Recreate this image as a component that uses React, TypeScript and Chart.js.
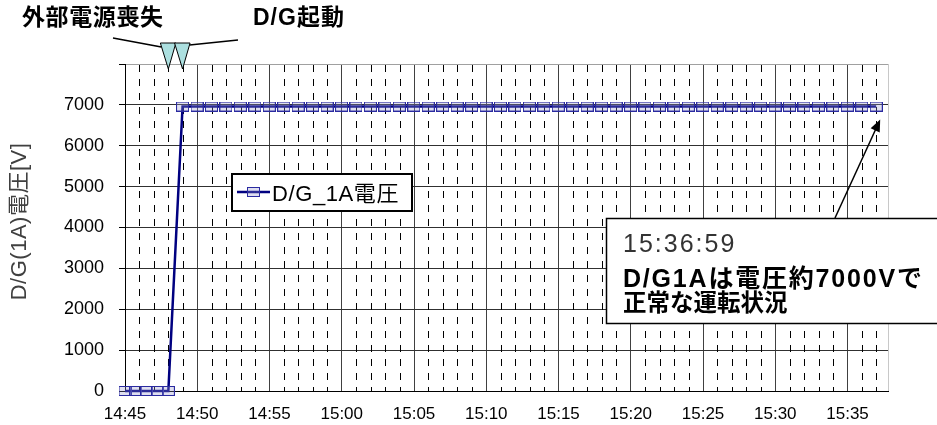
import React, { useEffect, useRef } from "react";
import { Chart, registerables } from "chart.js";

Chart.register(...registerables);

// ---- data ----
const timeLabels = [
  "14:45:00", "14:45:45", "14:46:30", "14:47:15", "14:48:00",
  "14:48:59", "14:49:59", "14:50:59", "14:51:59", "14:52:59", "14:53:59", "14:54:59",
  "14:55:59", "14:56:59", "14:57:59", "14:58:59", "14:59:59", "15:00:59", "15:01:59",
  "15:02:59", "15:03:59", "15:04:59", "15:05:59", "15:06:59", "15:07:59", "15:08:59",
  "15:09:59", "15:10:59", "15:11:59", "15:12:59", "15:13:59", "15:14:59", "15:15:59",
  "15:16:59", "15:17:59", "15:18:59", "15:19:59", "15:20:59", "15:21:59", "15:22:59",
  "15:23:59", "15:24:59", "15:25:59", "15:26:59", "15:27:59", "15:28:59", "15:29:59",
  "15:30:59", "15:31:59", "15:32:59", "15:33:59", "15:34:59", "15:35:59", "15:36:59",
];
const voltageValues = [
  0, 0, 0, 0, 0,
  6960, 6960, 6960, 6960, 6960, 6960, 6960,
  6960, 6960, 6960, 6960, 6960, 6960, 6960,
  6960, 6960, 6960, 6960, 6960, 6960, 6960,
  6960, 6960, 6960, 6960, 6960, 6960, 6960,
  6960, 6960, 6960, 6960, 6960, 6960, 6960,
  6960, 6960, 6960, 6960, 6960, 6960, 6960,
  6960, 6960, 6960, 6960, 6960, 6960, 6960,
];
const xTickLabels = [
  "14:45", "14:50", "14:55", "15:00", "15:05", "15:10",
  "15:15", "15:20", "15:25", "15:30", "15:35",
];
const yTickValues = [0, 1000, 2000, 3000, 4000, 5000, 6000, 7000];
const seriesName = "D/G_1A電圧";
const yAxisTitle = "D/G(1A)電圧[V]";
const eventLabels = ["外部電源喪失", "D/G起動"];
const eventTimes = ["14:48:00", "14:48:59"];
const calloutLines = ["15:36:59", "D/G1Aは電圧約7000Vで", "正常な運転状況"];

const START = "14:45:00";
const X_MAX_MIN = 52.8;
const Y_MAX = 8000;

const toSec = (s: string) => {
  const [h, m, sec] = s.split(":").map(Number);
  return h * 3600 + m * 60 + (sec || 0);
};
const toMin = (s: string) => (toSec(s) - toSec(START)) / 60;

const LATIN = "'Liberation Sans', 'Noto Sans CJK JP', sans-serif";

function makeMarker(): HTMLCanvasElement {
  const c = document.createElement("canvas");
  c.width = 13;
  c.height = 10;
  const g = c.getContext("2d")!;
  g.fillStyle = "rgba(150,150,205,0.3)";
  g.fillRect(1, 1, 11, 8);
  g.strokeStyle = "#2a2aa0";
  g.lineWidth = 1;
  g.strokeRect(0.5, 0.5, 12, 9);
  return c;
}

export default function App() {
  const ref = useRef<HTMLCanvasElement | null>(null);

  useEffect(() => {
    if (!ref.current) return;
    const marker = makeMarker();
    const points = timeLabels.map((t, i) => ({ x: toMin(t), y: voltageValues[i] }));

    const overlay = {
      id: "overlay",
      beforeDatasetsDraw(chart: any) {
        const { ctx, chartArea, scales } = chart;
        const xs = scales.x;
        ctx.save();
        ctx.strokeStyle = "#000";
        ctx.lineWidth = 1;
        ctx.setLineDash([7, 7]);
        for (let m = 1; m < X_MAX_MIN; m++) {
          if (m % 5 === 0) continue;
          const x = Math.round(xs.getPixelForValue(m)) + 0.5;
          ctx.beginPath();
          ctx.moveTo(x, chartArea.top + 1);
          ctx.lineTo(x, chartArea.bottom);
          ctx.stroke();
        }
        ctx.setLineDash([]);
        ctx.strokeStyle = "#c8c8c8";
        ctx.beginPath();
        ctx.moveTo(Math.round(chartArea.right) + 0.5, chartArea.top);
        ctx.lineTo(Math.round(chartArea.right) + 0.5, chartArea.bottom);
        ctx.stroke();
        ctx.restore();
      },
      afterDraw(chart: any) {
        const { ctx, chartArea, scales } = chart;
        const xs = scales.x;
        const ys = scales.y;
        ctx.save();

        // y axis title
        ctx.save();
        ctx.translate(20, (chartArea.top + chartArea.bottom) / 2 - 6);
        ctx.rotate(-Math.PI / 2);
        ctx.font = `22px ${LATIN}`;
        ctx.fillStyle = "#404040";
        ctx.textAlign = "center";
        ctx.textBaseline = "middle";
        (ctx as any).letterSpacing = "0.5px";
        ctx.fillText(yAxisTitle, 0, 0);
        ctx.restore();

        // legend box
        ctx.fillStyle = "#fff";
        ctx.fillRect(231, 173, 182, 39);
        ctx.strokeStyle = "#000";
        ctx.lineWidth = 2;
        ctx.strokeRect(232, 174, 180, 37);
        ctx.strokeStyle = "#000080";
        ctx.lineWidth = 2.5;
        ctx.beginPath();
        ctx.moveTo(237, 192);
        ctx.lineTo(270, 192);
        ctx.stroke();
        ctx.drawImage(marker, 253.5 - 6.5, 192 - 5);
        ctx.font = `22px ${LATIN}`;
        ctx.fillStyle = "#000";
        ctx.textAlign = "left";
        ctx.textBaseline = "alphabetic";
        (ctx as any).letterSpacing = "0.6px";
        ctx.fillText(seriesName, 272, 201);
        (ctx as any).letterSpacing = "0px";

        // event triangles
        const ex = eventTimes.map((t) => xs.getPixelForValue(toMin(t)));
        ctx.lineWidth = 1;
        ex.forEach((x: number) => {
          ctx.beginPath();
          ctx.moveTo(x - 8, 43);
          ctx.lineTo(x + 7.5, 43);
          ctx.lineTo(x, chartArea.top + 5);
          ctx.closePath();
          ctx.fillStyle = "#ace0e0";
          ctx.fill();
          ctx.strokeStyle = "#000";
          ctx.stroke();
        });
        ctx.lineWidth = 1.5;
        ctx.beginPath();
        ctx.moveTo(113, 38);
        ctx.lineTo(ex[0] - 7, 47);
        ctx.moveTo(ex[1] + 7, 45);
        ctx.lineTo(238, 40);
        ctx.stroke();

        // top texts
        ctx.fillStyle = "#000";
        ctx.font = `bold 23px ${LATIN}`;
        (ctx as any).letterSpacing = "0.6px";
        ctx.fillText(eventLabels[0], 22, 25);
        (ctx as any).letterSpacing = "1px";
        ctx.fillText(eventLabels[1], 253, 25);
        (ctx as any).letterSpacing = "0px";

        // callout box
        ctx.fillStyle = "#fff";
        ctx.fillRect(606, 218, 340, 106);
        ctx.strokeStyle = "#000";
        ctx.lineWidth = 1.5;
        ctx.strokeRect(606.5, 218.5, 340, 105);
        ctx.fillStyle = "#333";
        ctx.font = `25px ${LATIN}`;
        (ctx as any).letterSpacing = "2px";
        ctx.fillText(calloutLines[0], 623, 252);
        ctx.fillStyle = "#000";
        ctx.font = `bold 25px ${LATIN}`;
        (ctx as any).letterSpacing = "1.8px";
        ctx.fillText(calloutLines[1], 623, 287);
        (ctx as any).letterSpacing = "0px";
        ctx.font = `bold 23.5px ${LATIN}`;
        ctx.fillText(calloutLines[2], 623, 311);

        // arrow to last point
        const li = timeLabels.length - 1;
        const px = xs.getPixelForValue(toMin(timeLabels[li])) + 4;
        const py = ys.getPixelForValue(voltageValues[li]) + 13;
        const sx = 835, sy = 218;
        const ang = Math.atan2(py - sy, px - sx);
        ctx.strokeStyle = "#000";
        ctx.lineWidth = 1.5;
        ctx.beginPath();
        ctx.moveTo(sx, sy);
        ctx.lineTo(px - 8 * Math.cos(ang), py - 8 * Math.sin(ang));
        ctx.stroke();
        ctx.fillStyle = "#000";
        ctx.beginPath();
        ctx.moveTo(px, py);
        ctx.lineTo(px - 12 * Math.cos(ang) + 5 * Math.sin(ang), py - 12 * Math.sin(ang) - 5 * Math.cos(ang));
        ctx.lineTo(px - 12 * Math.cos(ang) - 5 * Math.sin(ang), py - 12 * Math.sin(ang) + 5 * Math.cos(ang));
        ctx.closePath();
        ctx.fill();

        ctx.restore();
      },
    };

    const chart = new Chart(ref.current, {
      type: "line",
      data: {
        datasets: [
          {
            label: seriesName,
            data: points,
            borderColor: "#000080",
            borderWidth: 2.5,
            pointStyle: marker as any,
            pointRadius: 6,
            tension: 0,
            clip: false as any,
          },
        ],
      },
      options: {
        responsive: false,
        animation: false,
        devicePixelRatio: 1,
        layout: { padding: { left: 0, top: 64, right: 49, bottom: 0 } },
        plugins: { legend: { display: false }, tooltip: { enabled: false } },
        scales: {
          x: {
            type: "linear",
            min: 0,
            max: X_MAX_MIN,
            afterFit: (s: any) => {
              s.height = 34;
            },
            ticks: {
              stepSize: 5,
              includeBounds: false,
              autoSkip: false,
              maxRotation: 0,
              padding: 13,
              color: "#000",
              font: { size: 17, family: LATIN },
              callback: (v: any) => {
                const i = Math.round(Number(v) / 5);
                return Number(v) % 5 === 0 ? xTickLabels[i] ?? "" : "";
              },
            },
            grid: { color: "#404040", lineWidth: 1, drawTicks: false },
            border: { color: "#000", width: 1 },
          },
          y: {
            min: 0,
            max: Y_MAX,
            afterFit: (s: any) => {
              s.width = 125;
            },
            ticks: {
              stepSize: 1000,
              padding: 15,
              color: "#000",
              font: { size: 18, family: LATIN },
              callback: (v: any) => (yTickValues.includes(Number(v)) ? String(v) : ""),
            },
            grid: {
              color: (c: any) => (c.tick && c.tick.value === Y_MAX ? "#a0a0a0" : "#303030"),
              lineWidth: 1,
              drawTicks: true,
              tickLength: 6,
              tickColor: "#000",
            },
            border: { color: "#000", width: 1 },
          },
        },
      },
      plugins: [overlay],
    });
    return () => chart.destroy();
  }, []);

  return (
    <div style={{ position: "absolute", left: 0, top: 0, width: 937, height: 425, background: "#fff" }}>
      <canvas ref={ref} width={937} height={425} style={{ width: 937, height: 425, display: "block" }} />
    </div>
  );
}
